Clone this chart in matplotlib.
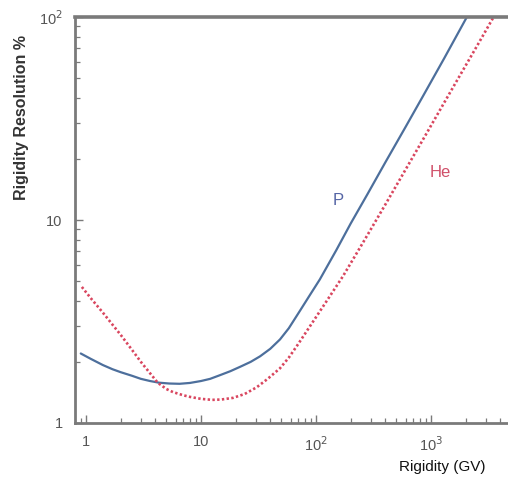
import matplotlib
matplotlib.use("Agg")
import matplotlib.pyplot as plt
from matplotlib.ticker import LogLocator, NullFormatter, FixedLocator, FixedFormatter

plt.rcParams['font.family'] = ['Liberation Sans', 'DejaVu Sans']

# Proton (P) rigidity resolution
p_rigidity = [0.9, 1.1, 1.4, 1.7, 2, 2.5, 3, 3.6, 4.3, 5.3, 6.5, 8, 10, 12, 14.6, 18, 21.8, 27, 32.6,
              40, 48.6, 58, 72, 88, 108, 150, 200, 280, 400, 600, 850, 1300, 2050]
p_resolution = [2.2, 2.07, 1.93, 1.84, 1.78, 1.71, 1.65, 1.61, 1.58, 1.565, 1.56, 1.575, 1.61, 1.65,
                1.72, 1.8, 1.89, 2.0, 2.13, 2.32, 2.58, 2.93, 3.55, 4.25, 5.1, 7.1, 9.6, 13.4,
                19.2, 28.7, 40.7, 62.5, 100]

# Helium (He) rigidity resolution
he_rigidity = [0.92, 1.1, 1.4, 1.7, 2, 2.5, 3, 3.6, 4.2, 5, 5.7, 7, 8, 10, 12.5, 15, 19, 24, 30.5,
               38, 48.6, 58, 70, 88, 108, 135, 172, 260, 400, 600, 900, 1300, 1800, 2600, 3500]
he_resolution = [4.68, 4.12, 3.5, 3.05, 2.72, 2.3, 2.0, 1.76, 1.58, 1.47, 1.42, 1.37, 1.345, 1.315,
                 1.30, 1.305, 1.33, 1.39, 1.5, 1.65, 1.86, 2.1, 2.45, 2.98, 3.55, 4.3, 5.3, 7.85,
                 11.9, 17.7, 26.3, 37.8, 52, 74.5, 100]

x_ticks = [1, 10, 100, 1000]
x_ticklabels = ['1', '10', r'10$^2$', r'10$^3$']
y_ticks = [1, 10, 100]
y_ticklabels = ['1', '10', r'10$^2$']

W, H = 508, 482
fig = plt.figure(figsize=(W / 100, H / 100), dpi=100)
ax = fig.add_axes([75 / W, 59 / H, 1 - 75 / W, 406 / H])

ax.plot(p_rigidity, p_resolution, color='#4d6f9c', lw=1.6, solid_capstyle='round',
        solid_joinstyle='round')
ax.plot(he_rigidity, he_resolution, color='#d9465f', lw=1.9, linestyle=(0, (0.9, 0.9)))

ax.set_xscale('log')
ax.set_yscale('log')
ax.set_xlim(0.802, 4670)
ax.set_ylim(1, 100)

ax.xaxis.set_major_locator(FixedLocator(x_ticks))
ax.xaxis.set_major_formatter(FixedFormatter(x_ticklabels))
ax.yaxis.set_major_locator(FixedLocator(y_ticks))
ax.yaxis.set_major_formatter(FixedFormatter(y_ticklabels))
ax.xaxis.set_minor_locator(LogLocator(base=10, subs=range(2, 10), numticks=20))
ax.yaxis.set_minor_locator(LogLocator(base=10, subs=range(2, 10), numticks=20))
ax.xaxis.set_minor_formatter(NullFormatter())
ax.yaxis.set_minor_formatter(NullFormatter())

spine_color = '#7a7a7a'
for side in ['left', 'bottom', 'top']:
    ax.spines[side].set_color(spine_color)
    ax.spines[side].set_linewidth(2.0)
ax.spines['top'].set_linewidth(2.6)
ax.spines['right'].set_visible(False)

ax.tick_params(axis='both', which='major', direction='in', length=6, width=1.0,
               color=spine_color, labelcolor='#555555', labelsize=10.5, pad=9)
ax.tick_params(axis='both', which='minor', direction='in', length=3.5, width=0.9,
               color=spine_color)
ax.tick_params(axis='x', which='both', top=False)
ax.tick_params(axis='y', which='both', right=False)

fig.text(338 / W, 1 - 200 / H, 'P', color='#5565a5', fontsize=12, ha='center', va='center')
fig.text(440 / W, 1 - 172 / H, 'He', color='#d0506a', fontsize=12, ha='center', va='center')

fig.text(22 / W, 1 - 117 / H, 'Rigidity Resolution %', rotation=90, ha='center', va='center',
         fontsize=11.5, fontweight='bold', color='#333333')
fig.text(442 / W, 1 - 467 / H, 'Rigidity (GV)', ha='center', va='center',
         fontsize=11, color='#111111')

fig.savefig('out.png', dpi=100)
